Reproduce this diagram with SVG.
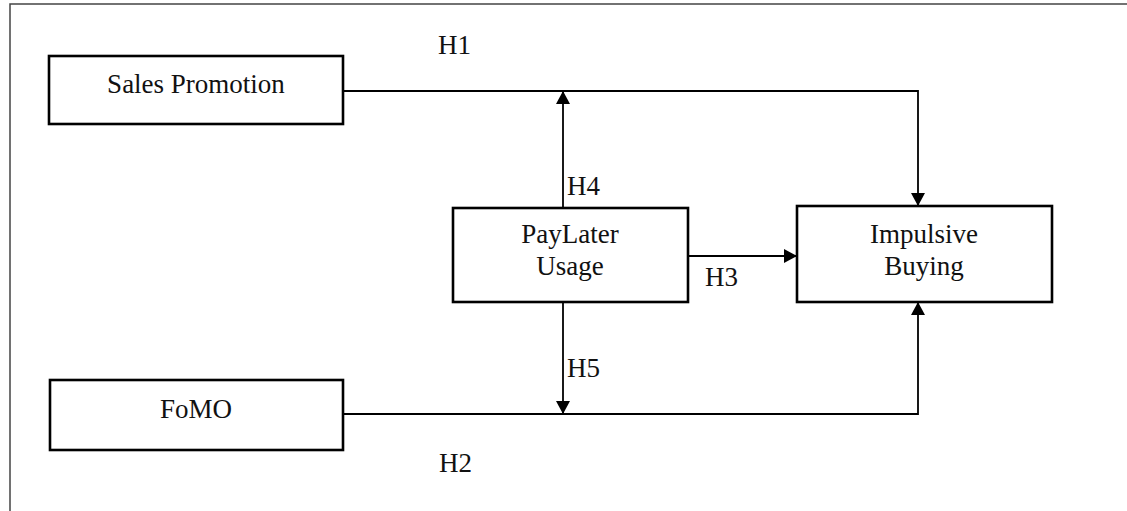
<svg xmlns="http://www.w3.org/2000/svg" width="1127" height="511" viewBox="0 0 1127 511">
<style>
.box{fill:#fff;stroke:#000;stroke-width:2.6}
.lbl{font-family:"Liberation Serif","Times New Roman",serif;font-size:27px;fill:#111;text-anchor:middle}
.h{font-family:"Liberation Serif","Times New Roman",serif;font-size:27px;fill:#111}
.con{fill:none;stroke:#000;stroke-width:1.8}
</style>
<defs>
<marker id="arr" markerUnits="userSpaceOnUse" markerWidth="14" markerHeight="14" refX="13" refY="7" orient="auto" viewBox="0 0 14 14">
<path d="M0,0 L13,7 L0,14 z" fill="#000"/>
</marker>
</defs>
<rect width="1127" height="511" fill="#fff"/>
<path d="M10,511 V4 H1127" fill="none" stroke="#444" stroke-width="1.5"/>
<g id="connectors">
<path class="con" d="M343,91 H918 V206" marker-end="url(#arr)"/>
<path class="con" d="M563,208 V91" marker-end="url(#arr)"/>
<path class="con" d="M688,256 H797" marker-end="url(#arr)"/>
<path class="con" d="M563,302 V414" marker-end="url(#arr)"/>
<path class="con" d="M343,414 H918 V302" marker-end="url(#arr)"/>
<text class="h" x="438" y="54">H1</text>
<text class="h" x="567" y="195">H4</text>
<text class="h" x="705" y="286">H3</text>
<text class="h" x="567" y="377">H5</text>
<text class="h" x="439" y="472">H2</text>
</g>
<g id="sales-promotion">
<rect class="box" x="49" y="56" width="294" height="68"/>
<text class="lbl" x="196" y="93">Sales Promotion</text>
</g>
<g id="fomo">
<rect class="box" x="50" y="380" width="293" height="70"/>
<text class="lbl" x="196" y="418">FoMO</text>
</g>
<g id="paylater-usage">
<rect class="box" x="453" y="208" width="235" height="94"/>
<text class="lbl" x="570" y="243">PayLater</text>
<text class="lbl" x="570" y="275">Usage</text>
</g>
<g id="impulsive-buying">
<rect class="box" x="797" y="206" width="255" height="96"/>
<text class="lbl" x="924" y="243">Impulsive</text>
<text class="lbl" x="924" y="275">Buying</text>
</g>
</svg>
